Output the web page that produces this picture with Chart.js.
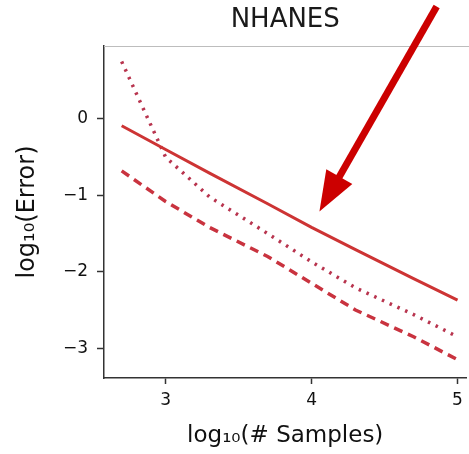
<!DOCTYPE html>
<html>
<head>
<meta charset="utf-8">
<script src="https://cdn.jsdelivr.net/npm/chart.js@4"></script>
<style>
  html, body { margin: 0; padding: 0; background: #fff; overflow: hidden; }
  #wrap { width: 469px; height: 454px; }
</style>
</head>
<body>
<div id="wrap"><canvas id="chart" width="469" height="454"></canvas></div>
<script>
// --- data (log10 values) ---
const logSamples = [2.699, 3.0, 3.301, 3.699, 4.0, 4.301, 4.699, 5.0];
const solidErr  = [-0.09, -0.40, -0.71, -1.11, -1.42, -1.71, -2.09, -2.37];
const dottedErr = [0.75, -0.50, -1.02, -1.50, -1.87, -2.21, -2.56, -2.85];
const dashedErr = [-0.68, -1.08, -1.42, -1.80, -2.15, -2.50, -2.85, -3.15];
const xTicks = [3, 4, 5];
const yTicks = [-3, -2, -1, 0];
// arrow annotation, in data units: [x, y]
const arrowFrom = [4.857, 1.47];
const arrowTo = [4.054, -1.21];

const toPoints = ys => logSamples.map((x, i) => ({ x, y: ys[i] }));
const fmt = v => (v < 0 ? '\u2212' + Math.abs(v) : String(v));
const FONT = 'DejaVu Sans';

const frameTop = {
  id: 'frameTop',
  afterDraw(chart) {
    const { ctx, chartArea: a } = chart;
    ctx.save();
    ctx.strokeStyle = '#bdbdbd';
    ctx.lineWidth = 1;
    ctx.beginPath();
    ctx.moveTo(a.left, a.top + 0.5);
    ctx.lineTo(chart.width, a.top + 0.5);
    ctx.stroke();
    ctx.restore();
  }
};

const arrow = {
  id: 'arrow',
  afterDraw(chart) {
    const { ctx, scales: { x, y } } = chart;
    const x0 = x.getPixelForValue(arrowFrom[0]), y0 = y.getPixelForValue(arrowFrom[1]);
    const x1 = x.getPixelForValue(arrowTo[0]), y1 = y.getPixelForValue(arrowTo[1]);
    const ang = Math.atan2(y1 - y0, x1 - x0);
    const headLen = 40, headHalf = 15;
    const bx = x1 - headLen * Math.cos(ang), by = y1 - headLen * Math.sin(ang);
    ctx.save();
    ctx.strokeStyle = '#cc0000';
    ctx.fillStyle = '#cc0000';
    ctx.lineWidth = 7;
    ctx.beginPath();
    ctx.moveTo(x0, y0);
    ctx.lineTo(bx + 2 * Math.cos(ang), by + 2 * Math.sin(ang));
    ctx.stroke();
    ctx.beginPath();
    ctx.moveTo(x1, y1);
    ctx.lineTo(bx + headHalf * Math.sin(ang), by - headHalf * Math.cos(ang));
    ctx.lineTo(bx - headHalf * Math.sin(ang), by + headHalf * Math.cos(ang));
    ctx.closePath();
    ctx.fill();
    ctx.restore();
  }
};

new Chart(document.getElementById('chart'), {
  type: 'line',
  data: {
    datasets: [
      { label: 'solid', data: toPoints(solidErr), borderColor: '#cd3434', borderWidth: 3 },
      { label: 'dotted', data: toPoints(dottedErr), borderColor: '#b8344e', borderWidth: 3.5, borderDash: [2.5, 6] },
      { label: 'dashed', data: toPoints(dashedErr), borderColor: '#c9333f', borderWidth: 3.5, borderDash: [9, 6] },
    ]
  },
  options: {
    responsive: false,
    animation: false,
    devicePixelRatio: 1,
    layout: { padding: { right: -6 } },
    elements: { point: { radius: 0 }, line: { tension: 0, borderCapStyle: 'butt' } },
    plugins: {
      legend: { display: false },
      tooltip: { enabled: false },
      title: {
        display: true, text: 'NHANES', fullSize: false, color: '#1a1a1a',
        font: { family: FONT, size: 26, weight: 'normal' },
        padding: { top: 5, bottom: 9.8 }
      }
    },
    scales: {
      x: {
        type: 'linear', min: 2.578, max: 5.061,
        afterBuildTicks: s => { s.ticks = xTicks.map(v => ({ value: v })); },
        afterFit: s => { s.height = 76; },
        grid: { drawOnChartArea: false, tickLength: 6, color: '#333', tickWidth: 1.5 },
        border: { color: '#333', width: 1.5 },
        ticks: { color: '#111', padding: 6, font: { family: FONT, size: 17 }, maxRotation: 0, callback: fmt },
        title: {
          display: true, text: 'log\u2081\u2080(# Samples)', color: '#111',
          font: { family: FONT, size: 23 }, padding: { top: 0, bottom: 4 }
        }
      },
      y: {
        type: 'linear', min: -3.39, max: 0.954,
        afterBuildTicks: s => { s.ticks = yTicks.map(v => ({ value: v })); },
        afterFit: s => { s.width = 104; },
        grid: { drawOnChartArea: false, tickLength: 7, color: '#333', tickWidth: 1.5 },
        border: { color: '#333', width: 1.5 },
        ticks: { color: '#111', padding: 9, font: { family: FONT, size: 17 }, callback: fmt },
        title: {
          display: true, text: 'log\u2081\u2080(Error)', color: '#111',
          font: { family: FONT, size: 24 }, padding: { top: 13, bottom: 0 }
        }
      }
    }
  },
  plugins: [frameTop, arrow]
});
</script>
</body>
</html>
